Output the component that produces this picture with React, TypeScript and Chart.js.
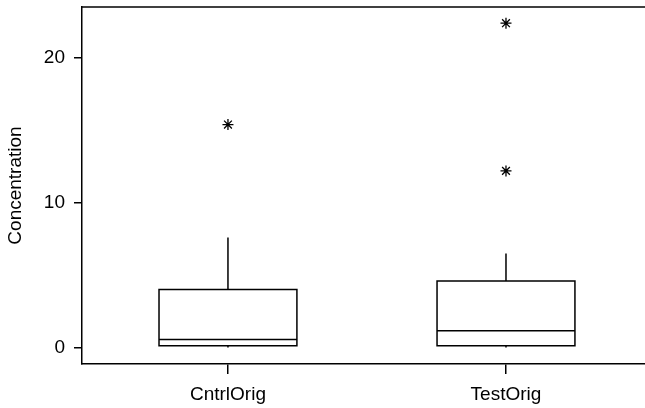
import React, { useEffect, useRef } from "react";
import { Chart, registerables } from "chart.js";
Chart.register(...registerables);

const categories = ["CntrlOrig", "TestOrig"];
const positions = [1, 2];
const whiskerLow = [0.0, 0.0];
const q1 = [0.12, 0.12];
const medians = [0.55, 1.15];
const q3 = [4.0, 4.6];
const whiskerHigh = [7.6, 6.5];
const outlierPositions = [1, 2, 2];
const outlierValues = [15.4, 12.2, 22.4];
const yTicks = [0, 10, 20];

const BOX_HALF = 0.248;
const FONT = "'Liberation Sans', Arial, Helvetica, sans-serif";

const boxPlugin = {
  id: "boxplotDraw",
  beforeDatasetsDraw(chart: any) {
    const ctx = chart.ctx;
    const xs = chart.scales.x;
    const ys = chart.scales.y;
    const area = chart.chartArea;
    ctx.save();
    ctx.strokeStyle = "#000";
    ctx.lineWidth = 1.5;
    // top frame line
    ctx.beginPath();
    ctx.moveTo(area.left, area.top);
    ctx.lineTo(chart.width, area.top);
    ctx.stroke();
    positions.forEach((p, i) => {
      const xl = xs.getPixelForValue(p - BOX_HALF);
      const xr = xs.getPixelForValue(p + BOX_HALF);
      const xc = xs.getPixelForValue(p);
      const yq1 = ys.getPixelForValue(q1[i]);
      const yq3 = ys.getPixelForValue(q3[i]);
      const ym = ys.getPixelForValue(medians[i]);
      const ywl = ys.getPixelForValue(whiskerLow[i]);
      const ywh = ys.getPixelForValue(whiskerHigh[i]);
      ctx.beginPath();
      ctx.rect(xl, yq3, xr - xl, yq1 - yq3);
      ctx.moveTo(xl, ym);
      ctx.lineTo(xr, ym);
      ctx.moveTo(xc, yq3);
      ctx.lineTo(xc, ywh);
      ctx.moveTo(xc, yq1);
      ctx.lineTo(xc, ywl);
      ctx.stroke();
    });
    ctx.restore();
  },
};

export default function App() {
  const ref = useRef<HTMLCanvasElement | null>(null);
  useEffect(() => {
    if (!ref.current) return;
    const chart = new Chart(ref.current, {
      type: "scatter",
      data: {
        datasets: [
          {
            label: "Outliers",
            data: outlierPositions.map((p, i) => ({ x: p, y: outlierValues[i] })),
            pointStyle: "star",
            radius: 5.5,
            borderColor: "#000",
            backgroundColor: "#000",
            borderWidth: 1.3,
          },
        ],
      },
      options: {
        responsive: false,
        animation: false,
        layout: { autoPadding: false, padding: { top: 7, right: 0, left: 0, bottom: 0 } },
        plugins: { legend: { display: false }, tooltip: { enabled: false } },
        scales: {
          x: {
            type: "linear",
            min: 0.475,
            max: 2.5,
            afterBuildTicks: (axis: any) => {
              axis.ticks = positions.map((v) => ({ value: v }));
            },
            afterFit: (scale: any) => {
              scale.height = 44;
              scale.paddingLeft = 0;
              scale.paddingRight = 0;
            },
            ticks: {
              callback: (v: any) => categories[positions.indexOf(Number(v))] ?? "",
              color: "#000",
              font: { family: FONT, size: 19 },
              padding: 9,
              maxRotation: 0,
            },
            grid: {
              drawOnChartArea: false,
              drawTicks: true,
              tickLength: 10,
              color: "#000",
              lineWidth: 1.5,
            },
            border: { display: true, color: "#000", width: 1.5 },
          },
          y: {
            min: -1.14,
            max: 23.52,
            afterBuildTicks: (axis: any) => {
              axis.ticks = yTicks.map((v) => ({ value: v }));
            },
            afterFit: (scale: any) => {
              scale.width = 82;
              scale.paddingTop = 0;
              scale.paddingBottom = 0;
            },
            ticks: {
              color: "#000",
              font: { family: FONT, size: 19 },
              padding: 9,
            },
            grid: {
              drawOnChartArea: false,
              drawTicks: true,
              tickLength: 8,
              color: "#000",
              lineWidth: 1.5,
            },
            border: { display: true, color: "#000", width: 1.5 },
            title: {
              display: true,
              text: "Concentration",
              color: "#000",
              font: { family: FONT, size: 19 },
              padding: { top: 4, bottom: 8 },
            },
          },
        },
      },
      plugins: [boxPlugin],
    });
    return () => chart.destroy();
  }, []);
  return (
    <div style={{ position: "absolute", left: 0, top: 0, width: 645, height: 408, background: "#fff" }}>
      <canvas ref={ref} width={645} height={408} />
    </div>
  );
}
